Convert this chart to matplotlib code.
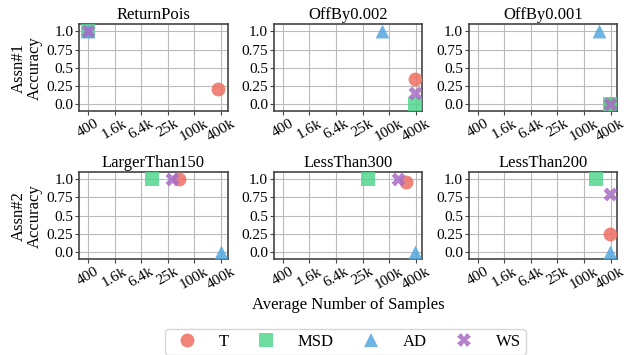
import matplotlib
matplotlib.use("Agg")
import matplotlib.pyplot as plt
from matplotlib.lines import Line2D

plt.rcParams['font.family'] = ['Liberation Serif', 'DejaVu Serif']

titles = ["ReturnPois", "OffBy0.002", "OffBy0.001",
          "LargerThan150", "LessThan300", "LessThan200"]
methods = ["T", "MSD", "AD", "WS"]
colors = {"T": "#ee6e62", "MSD": "#52d68e", "AD": "#55a8e0", "WS": "#a86cc6"}
markers = {"T": "o", "MSD": "s", "AD": "^", "WS": "X"}

# samples (x) and accuracy (y) per panel, per method
samples = {
    "ReturnPois":    {"T": 350000, "MSD": 400, "AD": 400, "WS": 400},
    "OffBy0.002":    {"T": 400000, "MSD": 400000, "AD": 70000, "WS": 400000},
    "OffBy0.001":    {"T": 400000, "MSD": 400000, "AD": 220000, "WS": 400000},
    "LargerThan150": {"T": 46000, "MSD": 11000, "AD": 400000, "WS": 32000},
    "LessThan300":   {"T": 245000, "MSD": 34000, "AD": 400000, "WS": 162000},
    "LessThan200":   {"T": 400000, "MSD": 188000, "AD": 400000, "WS": 400000},
}
accuracy = {
    "ReturnPois":    {"T": 0.2, "MSD": 1.0, "AD": 1.0, "WS": 1.0},
    "OffBy0.002":    {"T": 0.35, "MSD": 0.0, "AD": 1.0, "WS": 0.15},
    "OffBy0.001":    {"T": 0.0, "MSD": 0.0, "AD": 1.0, "WS": 0.0},
    "LargerThan150": {"T": 1.0, "MSD": 1.0, "AD": 0.0, "WS": 1.0},
    "LessThan300":   {"T": 0.97, "MSD": 1.0, "AD": 0.0, "WS": 1.0},
    "LessThan200":   {"T": 0.25, "MSD": 1.0, "AD": 0.0, "WS": 0.8},
}
xticks = [400, 1600, 6400, 25600, 102400, 409600]
xticklabels = ["400", "1.6k", "6.4k", "25k", "100k", "400k"]
yticks = [0.0, 0.25, 0.5, 0.75, 1.0]
yticklabels = ["0.0", "0.25", "0.5", "0.75", "1.0"]
row_labels = ["Assn#1\nAccuracy", "Assn#2\nAccuracy"]

fig, axes = plt.subplots(2, 3, figsize=(6.26, 3.55), dpi=100)
fig.subplots_adjust(left=0.126, right=0.986, top=0.932, bottom=0.270,
                    wspace=0.31, hspace=0.70)

for ax, title in zip(axes.flat, titles):
    for m in methods:
        ax.scatter([samples[title][m]], [accuracy[title][m]], marker=markers[m],
                   color=colors[m], s=100, alpha=0.85, linewidths=0, zorder=3)
    ax.set_xscale("log")
    ax.set_xlim(250, 575000)
    ax.set_ylim(-0.1, 1.1)
    ax.set_xticks(xticks)
    ax.set_xticklabels(xticklabels, rotation=30)
    ax.minorticks_off()
    ax.set_yticks(yticks)
    ax.set_yticklabels(yticklabels)
    ax.grid(True, color="#bbbbbb", linewidth=0.8, zorder=0)
    ax.set_axisbelow(True)
    for sp in ax.spines.values():
        sp.set_color("#444444")
        sp.set_linewidth(1.2)
    ax.tick_params(labelsize=11, length=3, color="#444444", pad=1)
    ax.set_title(title, fontsize=12, pad=4)

for r in range(2):
    axes[r, 0].set_ylabel(row_labels[r], fontsize=12, labelpad=3, linespacing=1.0)

fig.text(0.557, 0.14, "Average Number of Samples", ha="center", va="center", fontsize=12)

handles = [Line2D([], [], linestyle="none", marker=markers[m], color=colors[m],
                  markersize=10, alpha=0.85, markeredgewidth=0) for m in methods]
fig.legend(handles, methods, loc="center", bbox_to_anchor=(0.552, 0.038), ncol=4,
           fontsize=12, frameon=True, handletextpad=0.9, columnspacing=1.25,
           borderpad=0.3, edgecolor="#cccccc")

fig.savefig("out.png", dpi=100)
